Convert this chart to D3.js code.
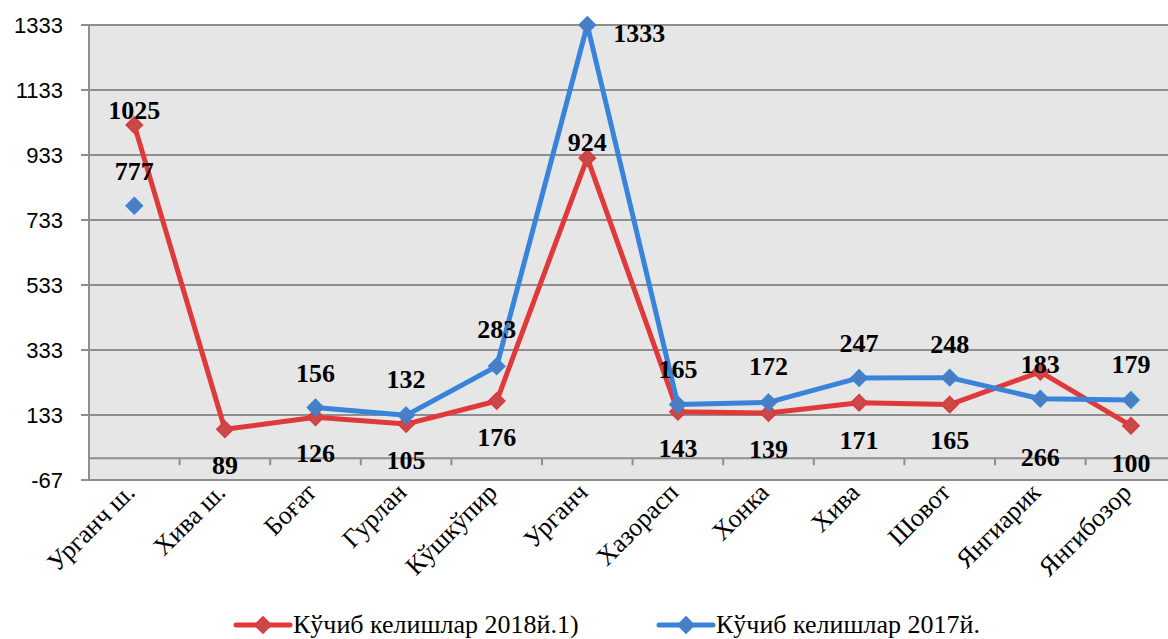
<!DOCTYPE html>
<html><head><meta charset="utf-8">
<script src="https://cdn.jsdelivr.net/npm/d3@7"></script>
<style>body{margin:0;background:#fff}svg{display:block}</style>
</head><body>
<svg id="c" width="1168" height="639"></svg>
<script>
const categories = ["Урганч ш.","Хива ш.","Боғат","Гурлан","Кўшкўпир","Урганч","Хазорасп","Хонка","Хива","Шовот","Янгиарик","Янгибозор"];
const series2018 = [1025, 89, 126, 105, 176, 924, 143, 139, 171, 165, 266, 100];
const series2017 = [777, null, 156, 132, 283, 1333, 165, 172, 247, 248, 183, 179];
const yTicks = [-67, 133, 333, 533, 733, 933, 1133, 1333];
const seriesNames = ["Кўчиб келишлар 2018й.1)", "Кўчиб келишлар 2017й."];
// label placement (offsets from the point, in px)
const redLabelDy = [-15, 36, 36, 36, 36, -16, 36, 36, 37, 35, 85, 37];
const blueLabelDy = [-35, -35, -35, -36, -37, 8, -36, -36, -35, -34, -35, -36];
const blueLabelDx = [0, 0, 0, 0, 0, 52, 0, 0, 0, 0, 0, 0];

(function () {
const svg = d3.select("#c");
const pLeft = 89, pTop = 25, pBottom = 480, band = 90.6;
const x = d3.scaleBand().domain(categories).range([pLeft, pLeft + band * categories.length]).padding(0);
const y = d3.scaleLinear().domain([-67, 1333]).range([pBottom, pTop]);
const cx = d => x(d) + x.bandwidth() / 2;

const RED = "#E0393A", RED_M = "#C9484A", BLUE = "#3A83DB", BLUE_M = "#4A7EC0", GRID = "#8E8E8E";

svg.append("rect").attr("x", pLeft).attr("y", pTop).attr("width", 1168 - pLeft).attr("height", pBottom - pTop).attr("fill", "#E6E6E6");

svg.append("g").selectAll("line").data(yTicks).join("line")
  .attr("x1", pLeft - 8).attr("x2", 1168).attr("y1", d => y(d)).attr("y2", d => y(d))
  .attr("stroke", GRID).attr("stroke-width", 2);

const yAxis = d3.axisLeft(y).tickValues(yTicks).tickSize(0).tickPadding(26).tickFormat(d => String(d));
const ga = svg.append("g").attr("transform", `translate(${pLeft},0)`).call(yAxis);
ga.select(".domain").remove();
ga.selectAll("text").attr("font-family", "Liberation Sans, Arial, sans-serif").attr("font-size", 22).attr("fill", "#000");
svg.append("line").attr("x1", pLeft).attr("x2", pLeft).attr("y1", pTop).attr("y2", pBottom).attr("stroke", GRID).attr("stroke-width", 2);

svg.append("line").attr("x1", pLeft).attr("x2", 1168).attr("y1", y(0)).attr("y2", y(0)).attr("stroke", GRID).attr("stroke-width", 2);
svg.append("g").selectAll("line").data(d3.range(1, categories.length + 1)).join("line")
  .attr("x1", i => pLeft + i * x.bandwidth()).attr("x2", i => pLeft + i * x.bandwidth())
  .attr("y1", y(0)).attr("y2", y(0) + 7).attr("stroke", GRID).attr("stroke-width", 2);

svg.append("g").selectAll("text").data(categories).join("text")
  .attr("transform", d => `translate(${cx(d) + 2},${pBottom + 14}) rotate(-45)`)
  .attr("text-anchor", "end").attr("font-family", "Liberation Serif, Times New Roman, serif")
  .attr("font-size", 26).attr("fill", "#000").text(d => d);

const diamond = d3.symbol().type(d3.symbolDiamond2).size(170);
function drawSeries(vals, lineColor, markColor) {
  const pts = vals.map((v, i) => ({c: categories[i], v}));
  const line = d3.line().defined(d => d.v != null).x(d => cx(d.c)).y(d => y(d.v));
  svg.append("path").datum(pts).attr("d", line).attr("fill", "none")
    .attr("stroke", lineColor).attr("stroke-width", 5).attr("stroke-linejoin", "round");
  svg.append("g").selectAll("path").data(pts.filter(d => d.v != null)).join("path")
    .attr("d", diamond).attr("transform", d => `translate(${cx(d.c)},${y(d.v)})`)
    .attr("fill", markColor).attr("stroke", lineColor).attr("stroke-width", 1.5);
}
drawSeries(series2018, RED, RED_M);
drawSeries(series2017, BLUE, BLUE_M);

function drawLabels(vals, dxs, dys) {
  svg.append("g").selectAll("text").data(vals.map((v, i) => ({v, i})).filter(d => d.v != null)).join("text")
    .attr("x", d => cx(categories[d.i]) + dxs[d.i]).attr("y", d => y(d.v) + dys[d.i])
    .attr("dy", "0.35em").attr("text-anchor", "middle")
    .attr("font-family", "Liberation Serif, Times New Roman, serif").attr("font-weight", "bold")
    .attr("font-size", 26).attr("fill", "#000").text(d => d.v);
}
drawLabels(series2018, series2018.map(() => 0), redLabelDy);
drawLabels(series2017, blueLabelDx, blueLabelDy);

const legend = [{name: seriesNames[0], lc: RED, mc: RED_M, x: 236}, {name: seriesNames[1], lc: BLUE, mc: BLUE_M, x: 659}];
const lg = svg.append("g").selectAll("g").data(legend).join("g").attr("transform", d => `translate(${d.x},625)`);
lg.append("line").attr("x1", 0).attr("x2", 54).attr("stroke", d => d.lc).attr("stroke-width", 5).attr("stroke-linecap", "round");
lg.append("path").attr("d", diamond).attr("transform", "translate(27,0)").attr("fill", d => d.mc).attr("stroke", d => d.lc).attr("stroke-width", 1.5);
lg.append("text").attr("x", 57).attr("y", 0).attr("dy", "0.32em").attr("font-family", "Liberation Serif, Times New Roman, serif")
  .attr("font-size", 26).attr("fill", "#000").text(d => d.name);
})();
</script>
</body></html>
